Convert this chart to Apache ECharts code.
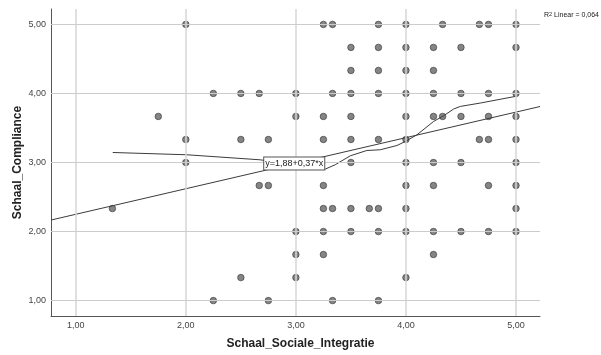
<!DOCTYPE html>
<html>
<head>
<meta charset="utf-8">
<script src="https://cdn.jsdelivr.net/npm/echarts@6/dist/echarts.min.js"></script>
<style>
  html, body { margin: 0; padding: 0; background: #fff; }
  #chart { width: 601px; height: 355px; }
</style>
</head>
<body>
<div id="chart"></div>
<script>
// Schaal_Sociale_Integratie (x) vs Schaal_Compliance (y)
const xValues = [
  2.00, 2.25, 2.50, 2.667, 3.00, 1.75, 3.00, 2.00, 2.50, 2.75, 2.00,
  2.667, 2.75, 1.333, 3.00, 3.00, 2.50, 3.00, 2.25, 2.75,
  3.25, 3.333, 3.75, 4.00, 4.333, 4.667, 4.75, 5.00,
  3.50, 3.75, 4.00, 4.25, 4.50, 5.00,
  3.50, 3.75, 4.00, 4.25,
  3.333, 3.50, 3.75, 4.00, 4.25, 4.50, 4.75, 5.00,
  3.25, 3.50, 4.00, 4.25, 4.333, 4.50, 4.75, 5.00,
  3.25, 3.50, 3.75, 4.00, 4.667, 4.75, 5.00,
  3.50, 4.00, 4.25, 4.50, 5.00,
  3.25, 4.00, 4.25, 4.75, 5.00,
  3.25, 3.333, 3.50, 3.667, 3.75, 4.00, 5.00,
  3.25, 3.50, 3.75, 4.00, 4.25, 4.50, 4.75, 5.00,
  3.25, 4.25,
  4.00,
  3.333, 3.75
];
const yValues = [
  5.00, 4.00, 4.00, 4.00, 4.00, 3.667, 3.667, 3.333, 3.333, 3.333, 3.00,
  2.667, 2.667, 2.333, 2.00, 1.667, 1.333, 1.333, 1.00, 1.00,
  5.00, 5.00, 5.00, 5.00, 5.00, 5.00, 5.00, 5.00,
  4.667, 4.667, 4.667, 4.667, 4.667, 4.667,
  4.333, 4.333, 4.333, 4.333,
  4.00, 4.00, 4.00, 4.00, 4.00, 4.00, 4.00, 4.00,
  3.667, 3.667, 3.667, 3.667, 3.667, 3.667, 3.667, 3.667,
  3.333, 3.333, 3.333, 3.333, 3.333, 3.333, 3.333,
  3.00, 3.00, 3.00, 3.00, 3.00,
  2.667, 2.667, 2.667, 2.667, 2.667,
  2.333, 2.333, 2.333, 2.333, 2.333, 2.333, 2.333,
  2.00, 2.00, 2.00, 2.00, 2.00, 2.00, 2.00, 2.00,
  1.667, 1.667,
  1.333,
  1.00, 1.00
];

// Loess curve
const loessX = [1.336, 2.009, 2.675, 2.736, 3.00, 3.266, 3.357, 3.494, 3.645, 3.766, 3.918, 3.994, 4.10, 4.251, 4.342, 4.433, 4.494, 4.675, 4.994];
const loessY = [3.145, 3.112, 3.039, 3.025, 2.96, 2.904, 2.967, 3.097, 3.174, 3.184, 3.246, 3.304, 3.401, 3.594, 3.677, 3.774, 3.812, 3.861, 3.957];

// Linear fit
const intercept = 1.88;
const slope = 0.37;
const rSquared = '0,064';
const fitLabel = 'y=1,88+0,37*x';

const tickValues = [1, 2, 3, 4, 5];
const tickLabels = ['1,00', '2,00', '3,00', '4,00', '5,00'];

const xMin = 0.775, xMax = 5.218;
const yMin = 0.777, yMax = 5.223;

const points = xValues.map((x, i) => [x, yValues[i]]);
const loess = loessX.map((x, i) => [x, loessY[i]]);
const fitLine = [[xMin, intercept + slope * xMin], [xMax, intercept + slope * xMax]];
const fmt = v => tickLabels[tickValues.indexOf(Math.round(v))] || '';

const font = 'Liberation Sans, Arial, sans-serif';
const chart = echarts.init(document.getElementById('chart'), null, { renderer: 'canvas' });

chart.setOption({
  backgroundColor: '#ffffff',
  animation: false,
  grid: { left: 51, right: 61, top: 9, bottom: 39, containLabel: false },
  xAxis: {
    type: 'value', min: xMin, max: xMax,
    name: 'Schaal_Sociale_Integratie', nameLocation: 'middle', nameGap: 22, nameMoveOverlap: false,
    nameTextStyle: { fontFamily: font, fontSize: 12, fontWeight: 'bold', color: '#222', padding: [0, 0, 0, 10] },
    axisLine: { show: true, lineStyle: { color: '#555', width: 1 } },
    axisTick: { show: false, customValues: tickValues },
    axisLabel: { customValues: tickValues, formatter: fmt, fontFamily: font, fontSize: 9, color: '#444', margin: 5 },
    splitLine: { show: false }
  },
  yAxis: {
    type: 'value', min: yMin, max: yMax,
    name: 'Schaal_Compliance', nameLocation: 'middle', nameGap: 27, nameMoveOverlap: false,
    nameTextStyle: { fontFamily: font, fontSize: 12, fontWeight: 'bold', color: '#222' },
    axisLine: { show: true, lineStyle: { color: '#555', width: 1 } },
    axisTick: { show: false, customValues: tickValues },
    axisLabel: { customValues: tickValues, formatter: fmt, fontFamily: font, fontSize: 9, color: '#444', margin: 5 },
    splitLine: { show: false }
  },
  series: [
    {
      // reference grid
      type: 'line', data: [], z: 1, silent: true,
      markLine: {
        silent: true, symbol: 'none', label: { show: false },
        data: [
          ...tickValues.map(v => ({ xAxis: v, lineStyle: { color: '#d6d6d6', width: 1.5, type: 'solid' } })),
          ...tickValues.map(v => ({ yAxis: v, lineStyle: { color: '#cccccc', width: 1, type: 'solid' } }))
        ]
      }
    },
    {
      type: 'scatter', data: points, z: 3,
      symbol: 'circle', symbolSize: 6.5,
      itemStyle: { color: '#666666', borderColor: '#363636', borderWidth: 0.8 }
    },
    {
      type: 'line', data: loess, z: 4, showSymbol: false, smooth: false,
      lineStyle: { color: '#3c3c3c', width: 1 }
    },
    {
      type: 'line', data: fitLine, z: 4, showSymbol: false,
      lineStyle: { color: '#3c3c3c', width: 1 },
      markPoint: {
        symbol: 'rect', symbolSize: 0, z: 6,
        data: [{ coord: [2.985, 2.985] }],
        label: {
          show: true, position: 'inside', formatter: fitLabel,
          fontFamily: font, fontSize: 9, color: '#222',
          backgroundColor: '#ffffff', borderColor: '#555', borderWidth: 1,
          padding: [2, 1, 1, 1]
        }
      }
    }
  ],
  graphic: [{
    type: 'text', left: 544, top: 11, z: 10,
    style: {
      text: '{t|R}{s|2}{t| Linear = ' + rSquared + '}',
      rich: {
        t: { fontFamily: font, fontSize: 7, fill: '#222' },
        s: { fontFamily: font, fontSize: 5.5, fill: '#222', verticalAlign: 'top', padding: [0, 0, 3, 0] }
      }
    }
  }]
});
</script>
</body>
</html>
